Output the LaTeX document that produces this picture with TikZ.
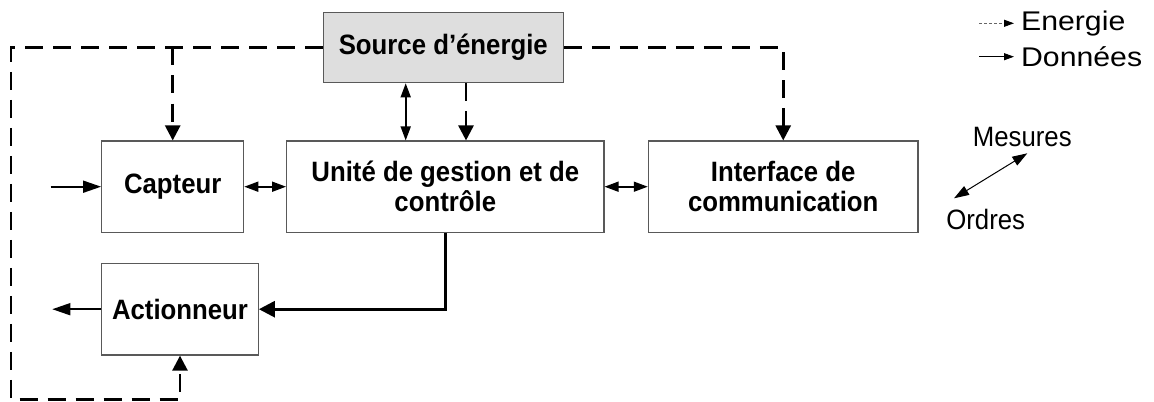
\documentclass[tikz,border=0pt]{standalone}
\usepackage{fontspec}
\setmainfont{Liberation Sans}
\newfontfamily\narrowfont[FakeStretch=0.92]{Liberation Sans}
\newfontfamily\widefont[FakeStretch=1.12]{Liberation Sans}
\usetikzlibrary{arrows.meta}
\tikzset{
  box/.style={draw=black!65,line width=0.6pt,font=\narrowfont\bfseries\fontsize{14}{15}\selectfont,align=center,inner sep=0pt},
  energy/.style={line width=1.3pt,dash pattern=on 9pt off 5pt,-{Triangle[length=7.5pt,width=7.5pt]}},
  data/.style={line width=0.8pt,-{Triangle[length=9pt,width=6pt]}},
  both/.style={line width=0.8pt,{Triangle[length=7pt,width=5pt]}-{Triangle[length=7pt,width=5pt]}},
  lbl/.style={font=\narrowfont\fontsize{14}{15}\selectfont,inner sep=0pt},
  key/.style={font=\widefont\fontsize{13.5}{15}\selectfont,inner sep=0pt,anchor=west}
}
\begin{document}
\begin{tikzpicture}[x=0.5pt,y=-0.5pt]
   \useasboundingbox (0,0) rectangle (1154,401);
   \node[box,fill=black!13,minimum width=120pt,minimum height=35.2pt] (src) at (443.3,47.5) {Source d’énergie};
   \node[box,minimum width=71pt,minimum height=45.65pt] (cap) at (172.7,186.7) {Capteur};
   \node[box,minimum width=158.65pt,minimum height=45.65pt] (ugc) at (445.3,186.7) {Unité de gestion et de\\contrôle};
   \node[box,minimum width=134.85pt,minimum height=45.65pt] (itf) at (783.2,186.7) {Interface de\\communication};
   \node[box,minimum width=78.3pt,minimum height=45.85pt] (act) at (180,309.2) {Actionneur};
   \coordinate (corner) at (11,399.3);
   \coordinate (in) at (50.7,186.7);
   \coordinate (out) at (52.3,309.2);
   \draw[energy] (src.west) -| (corner) -| (act.south);
   \draw[energy] (src.west -| cap.north) -- (cap.north);
   \draw[energy] (src.east) -| (itf.north);
   \draw[both] ([xshift=-18.8pt]src.south) -- ([xshift=-18.8pt]src.south |- ugc.north);
   \draw[energy] ([xshift=11.35pt]src.south) -- ([xshift=11.35pt]src.south |- ugc.north);
   \draw[data] (in) -- (cap.west);
   \draw[both] (cap.east) -- (ugc.west);
   \draw[both] (ugc.east) -- (itf.west);
   \draw[data,line width=1.4pt,-{Triangle[length=8pt,width=8pt]}] (ugc.south) |- (act.east);
   \draw[data] (act.west) -- (out);
   \coordinate (e1) at (979,23.3);
   \coordinate (e2) at (1014,23.3);
   \coordinate (d1) at (979,56.7);
   \coordinate (d2) at (1014,56.7);
   \draw[black!60,line width=0.5pt,dash pattern=on 1.5pt off 1pt,-{Triangle[length=5pt,width=3.5pt,fill=black,color=black]}] (e1) -- (e2);
   \draw[line width=0.5pt,-{Triangle[length=5pt,width=3.5pt]}] (d1) -- (d2);
   \node[key] (ene) at (1020.7,23.3) {Energie};
   \node[key] (don) at (1020.7,56.7) {Données};
   \node[lbl] (mes) at (1022.3,136.7) {Mesures};
   \node[lbl] (ord) at (985.7,219.3) {Ordres};
   \coordinate (m1) at (1027.3,153.3);
   \coordinate (o1) at (954,198.3);
   \draw[line width=0.5pt,{Triangle[length=7.5pt,width=5pt]}-{Triangle[length=7.5pt,width=5pt]}] (o1) -- (m1);
\end{tikzpicture}
\end{document}
